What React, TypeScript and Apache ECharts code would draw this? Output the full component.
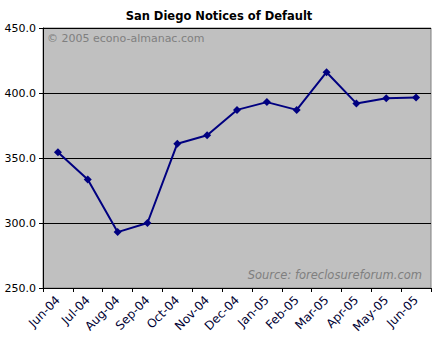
import React, { useEffect, useRef } from "react";
import * as echarts from "echarts";

const categories = ["Jun-04", "Jul-04", "Aug-04", "Sep-04", "Oct-04", "Nov-04", "Dec-04", "Jan-05", "Feb-05", "Mar-05", "Apr-05", "May-05", "Jun-05"];
const values = [354.5, 333.5, 293, 300, 361, 367.5, 387, 393, 387, 416, 392, 396, 396.5];
const yTicks = { min: 250, max: 450, interval: 50 };

export default function App() {
  const ref = useRef<HTMLDivElement>(null);
  useEffect(() => {
    const chart = echarts.init(ref.current!, null, { renderer: "svg" });
    chart.setOption({
      animation: false,
      backgroundColor: "#ffffff",
      title: {
        text: "San Diego Notices of Default",
        left: "center",
        top: 5,
        textStyle: { fontFamily: "DejaVu Sans", fontSize: 11.5, fontWeight: "bold", color: "#000" },
      },
      grid: { left: 43, right: 7, top: 28, bottom: 55, containLabel: false, show: true, backgroundColor: "#c0c0c0", borderColor: "#808080", borderWidth: 1 },
      xAxis: {
        type: "category",
        data: categories,
        boundaryGap: true,
        axisLine: { lineStyle: { color: "#000", width: 1 } },
        axisTick: { show: true, length: 4, lineStyle: { color: "#000" } },
        axisLabel: { rotate: 45, fontFamily: "DejaVu Sans", fontSize: 12, color: "#000033", margin: 10, interval: 0 },
        splitLine: { show: false },
      },
      yAxis: {
        type: "value",
        min: yTicks.min,
        max: yTicks.max,
        interval: yTicks.interval,
        axisLine: { show: true, lineStyle: { color: "#000", width: 1 } },
        axisTick: { show: true, length: 4, lineStyle: { color: "#000" } },
        axisLabel: { formatter: (v: number) => v.toFixed(1), fontFamily: "DejaVu Sans", fontSize: 11, color: "#000", margin: 7 },
        splitLine: { show: true, lineStyle: { color: "#000", width: 1 } },
      },
      series: [
        {
          type: "line",
          data: values,
          symbol: "diamond",
          symbolSize: 8,
          lineStyle: { color: "#000080", width: 2 },
          itemStyle: { color: "#000080" },
        },
      ],
      graphic: [
        {
          type: "text",
          left: 47,
          top: 33,
          style: { text: "© 2005 econo-almanac.com", fontFamily: "DejaVu Sans", fontSize: 11, fill: "#7f7f7f" },
        },
        {
          type: "text",
          right: 16,
          top: 269,
          style: { text: "Source: foreclosureforum.com", fontFamily: "DejaVu Sans", fontSize: 11.5, fontStyle: "italic", fill: "#7f7f7f" },
        },
      ],
    });
    return () => chart.dispose();
  }, []);
  return <div ref={ref} style={{ position: "absolute", left: 0, top: 0, width: 438, height: 343 }} />;
}
